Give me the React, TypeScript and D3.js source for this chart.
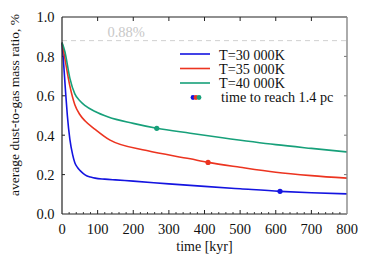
import React from 'react'
import * as d3 from 'd3'

const xTicks = [0, 100, 200, 300, 400, 500, 600, 700, 800]
const yTicks = [0.0, 0.2, 0.4, 0.6, 0.8, 1.0]

const blueTime = [0, 4, 10, 15, 22, 30, 36, 44, 51, 60, 69, 80, 93, 120, 150, 200, 300, 400, 500, 612, 700, 800]
const blueVals = [0.87, 0.78, 0.62, 0.5, 0.38, 0.3, 0.26, 0.235, 0.22, 0.205, 0.194, 0.188, 0.182, 0.177, 0.173, 0.167, 0.153, 0.14, 0.128, 0.115, 0.108, 0.102]

const redTime = [0, 8, 22, 36, 50, 65, 93, 135, 238, 360, 410, 500, 600, 700, 800]
const redVals = [0.87, 0.79, 0.65, 0.555, 0.505, 0.472, 0.43, 0.375, 0.322, 0.28, 0.262, 0.237, 0.212, 0.195, 0.182]

const greenTime = [0, 8, 22, 36, 50, 65, 93, 130, 200, 266, 360, 450, 600, 700, 800]
const greenVals = [0.87, 0.825, 0.69, 0.61, 0.575, 0.55, 0.52, 0.492, 0.46, 0.435, 0.41, 0.387, 0.352, 0.333, 0.315]

const seriesNames = ['T=30 000K', 'T=35 000K', 'T=40 000K']
const seriesColors = ['#1414e0', '#ec3420', '#17a07a']
const reachTime = [612, 410, 266]
const reachVal = [0.115, 0.262, 0.435]

const font = 'Liberation Serif'

export default function App() {
  const width = 374
  const height = 262
  const margin = { top: 17, right: 27, bottom: 48, left: 62 }

  const x = d3.scaleLinear().domain([0, 800]).range([margin.left, width - margin.right])
  const y = d3.scaleLinear().domain([0, 1]).range([height - margin.bottom, margin.top])

  const series = [
    { t: blueTime, v: blueVals },
    { t: redTime, v: redVals },
    { t: greenTime, v: greenVals },
  ]

  const line = d3.line<[number, number]>()
    .x(d => x(d[0]))
    .y(d => y(d[1]))
    .curve(d3.curveMonotoneX)

  const minorX = d3.range(0, 801, 20).filter(d => d % 100 !== 0)
  const x0 = x(0), x1 = x(800), yb = y(0), yt = y(1)
  const ts = { fontFamily: font }

  return (
    <svg width={width} height={height} style={{ position: 'absolute', left: 0, top: 0, background: '#fff' }}>
      {/* 0.88 reference */}
      <line x1={x0} x2={x1} y1={y(0.88)} y2={y(0.88)} stroke="#d0d0d0" strokeWidth={1} strokeDasharray="5,4" />
      <text style={ts} x={x(180)} y={y(0.88) - 4} fontSize={14.5} fill="#c8c8c8" textAnchor="middle">0.88%</text>

      {/* ticks */}
      {xTicks.slice(1, -1).map(d => (
        <g key={'xt' + d}>
          <line x1={x(d)} x2={x(d)} y1={yb} y2={yb - 4} stroke="#222" />
          <line x1={x(d)} x2={x(d)} y1={yt} y2={yt + 4} stroke="#222" />
        </g>
      ))}
      {minorX.map(d => (
        <g key={'xm' + d}>
          <line x1={x(d)} x2={x(d)} y1={yb} y2={yb - 2} stroke="#444" />
        </g>
      ))}
      {yTicks.slice(1, -1).map(d => (
        <g key={'yt' + d}>
          <line x1={x0} x2={x0 + 3} y1={y(d)} y2={y(d)} stroke="#222" />
          <line x1={x1} x2={x1 - 3} y1={y(d)} y2={y(d)} stroke="#777" />
        </g>
      ))}

      {/* curves */}
      {series.map((s, i) => (
        <path key={'s' + i}
          d={line(s.t.map((t, j) => [t, s.v[j]] as [number, number])) || ''}
          fill="none" stroke={seriesColors[i]} strokeWidth={1.6} />
      ))}
      {reachTime.map((t, i) => (
        <circle key={'d' + i} cx={x(t)} cy={y(reachVal[i])} r={2.6} fill={seriesColors[i]} />
      ))}

      {/* frame */}
      <line x1={x0} x2={x1} y1={yt} y2={yt} stroke="#222" strokeWidth={1.2} />
      <line x1={x0} x2={x1} y1={yb} y2={yb} stroke="#222" strokeWidth={1.2} />
      <line x1={x0} x2={x0} y1={yt} y2={yb} stroke="#222" strokeWidth={1.2} />
      <line x1={x1} x2={x1} y1={yt} y2={yb} stroke="#888" strokeWidth={1.4} />

      {/* tick labels */}
      {xTicks.map(d => (
        <text key={'xl' + d} style={ts} x={x(d)} y={yb + 19.5} fontSize={14.5} textAnchor="middle" fill="#111">{d}</text>
      ))}
      {yTicks.map(d => (
        <text key={'yl' + d} style={ts} x={x0 - 7.5} y={y(d) + 5.3} fontSize={14.5} textAnchor="end" fill="#111">{d.toFixed(1)}</text>
      ))}

      <text style={ts} x={x(400)} y={yb + 37} fontSize={14} textAnchor="middle" fill="#111">time [kyr]</text>
      <text style={ts} transform={`translate(19,105) rotate(-90)`} fontSize={13.5} textAnchor="middle" fill="#111">
        average dust-to-gas mass ratio, %
      </text>

      {/* legend */}
      {seriesNames.map((n, i) => (
        <g key={'lg' + i}>
          <line x1={180} x2={210} y1={54 + i * 14.5} y2={54 + i * 14.5} stroke={seriesColors[i]} strokeWidth={1.6} />
          <text style={ts} x={219} y={59.5 + i * 14.3} fontSize={14.2} fill="#111">{n}</text>
        </g>
      ))}
      {seriesColors.map((c, i) => (
        <circle key={'ld' + i} cx={193 + i * 3} cy={97.5} r={2.4} fill={c} />
      ))}
      <text style={ts} x={221} y={102} fontSize={14.2} fill="#111">time to reach 1.4 pc</text>
    </svg>
  )
}
